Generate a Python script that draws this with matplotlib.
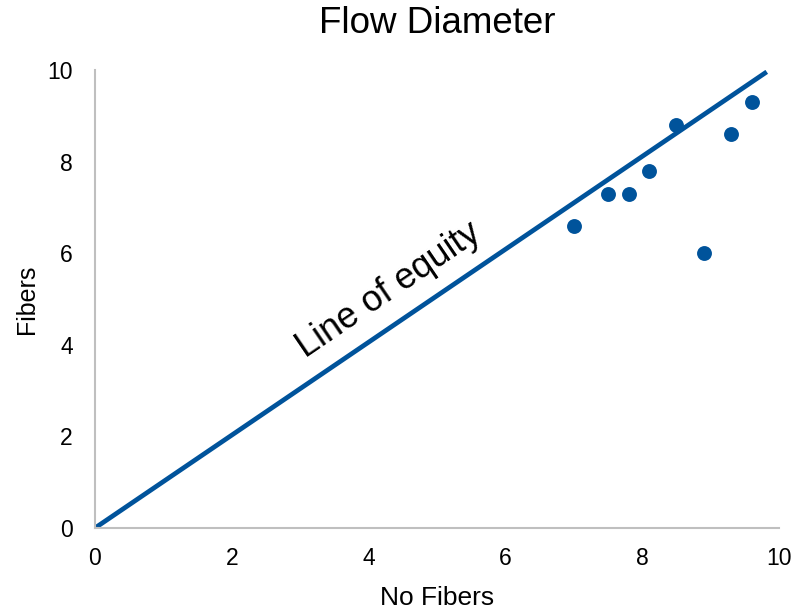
import matplotlib
matplotlib.use('Agg')
import matplotlib.pyplot as plt
import numpy as np

plt.rcParams['font.family'] = ['Liberation Sans', 'DejaVu Sans']

# data
no_fibers = [7.0, 7.5, 7.8, 8.1, 8.5, 8.9, 9.3, 9.6]
fibers = [6.6, 7.3, 7.3, 7.8, 8.8, 6.0, 8.6, 9.3]
line_x = [0, 9.82]
line_y = [0, 9.96]
ticks = [0, 2, 4, 6, 8, 10]

blue = '#00539B'

fig = plt.figure(figsize=(7.96, 6.10), dpi=100)
ax = fig.add_axes([0.1193, 0.1344, 0.8594, 0.7508])

ax.plot(line_x, line_y, color=blue, lw=3.4, solid_capstyle='butt', zorder=2)
ax.scatter(no_fibers, fibers, s=115, color=blue, zorder=3, linewidths=0)

ax.text(4.3, 5.2, 'Line of equity', fontsize=26, rotation=34.2,
        ha='center', va='center', rotation_mode='anchor')

ax.set_xlim(0, 10)
ax.set_ylim(0, 10)
ax.set_xticks(ticks)
ax.set_yticks(ticks)
ax.tick_params(length=0, labelsize=16.5)
ax.tick_params(axis='x', pad=14)
ax.tick_params(axis='y', pad=16)
for s in ['top', 'right']:
    ax.spines[s].set_visible(False)
for s in ['left', 'bottom']:
    ax.spines[s].set_color('#BFBFBF')
    ax.spines[s].set_linewidth(1.5)

ax.set_title('Flow Diameter', fontsize=26.5, pad=27)
ax.set_xlabel('No Fibers', fontsize=19, labelpad=11)
ax.set_ylabel('Fibers', fontsize=18, labelpad=6)

plt.savefig('out.png', dpi=100)
